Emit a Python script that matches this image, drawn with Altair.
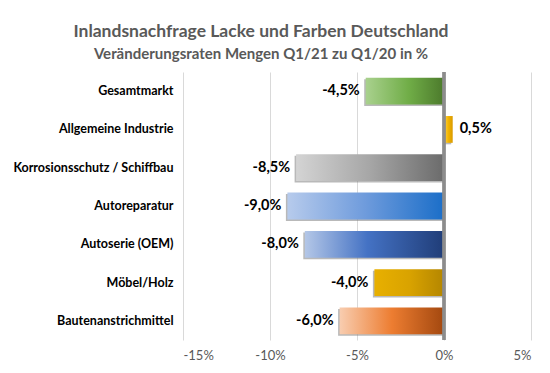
import altair as alt
import pandas as pd

categories = ["Gesamtmarkt", "Allgemeine Industrie", "Korrosionsschutz / Schiffbau",
              "Autoreparatur", "Autoserie (OEM)", "Möbel/Holz", "Bautenanstrichmittel"]
values = [-4.5, 0.5, -8.5, -9.0, -8.0, -4.0, -6.0]
gradient_stops = [
    [("#a9d18e", 0.0), ("#70ad47", 0.55), ("#4c7a2c", 1.0)],
    [("#ffd54f", 0.0), ("#f2b400", 0.5), ("#d99a00", 1.0)],
    [("#d4d4d4", 0.0), ("#a6a6a6", 0.5), ("#6b6b6b", 1.0)],
    [("#b7cbec", 0.0), ("#6e9bdc", 0.5), ("#1b6ec8", 1.0)],
    [("#b4c7e7", 0.0), ("#4472c4", 0.45), ("#203d78", 1.0)],
    [("#e8b000", 0.0), ("#d9a300", 0.5), ("#b48600", 1.0)],
    [("#f8cdb0", 0.0), ("#ed7d31", 0.5), ("#a3480f", 1.0)],
]
x_ticks = [-15, -10, -5, 0, 5]

FONT = "Lato"
W, H = 348, 268

df = pd.DataFrame({"cat": categories, "v": values})

xs = alt.X("v:Q", scale=alt.Scale(domain=[-15, 5], nice=False), title=None,
           axis=alt.Axis(values=x_ticks, labelExpr="datum.value + '%'", domain=False, ticks=False,
                         grid=True, gridColor="#d9d9d9", labelColor="#595959", labelFontSize=13,
                         labelFont=FONT, labelPadding=9))
ys = alt.Y("cat:N", sort=categories, title=None,
           scale=alt.Scale(paddingInner=0.3, paddingOuter=0.15),
           axis=alt.Axis(domain=False, ticks=False, labelFontWeight="bold", labelColor="#000000",
                         labelFontSize=12.5, labelFont=FONT, labelPadding=10, labelLimit=300))

base = alt.Chart(df)

shadow = base.mark_bar(color="#7f7f7f", opacity=0.55, xOffset=-1.5, yOffset=1.5).encode(
    x=xs, y=ys, x2=alt.datum(0))

bars = []
for cat, stops in zip(categories, gradient_stops):
    g = alt.Gradient(gradient="linear", x1=0, x2=1, y1=0, y2=0,
                     stops=[alt.GradientStop(color=c, offset=o) for c, o in stops])
    bars.append(base.transform_filter(alt.datum.cat == cat).mark_bar(color=g).encode(
        x=xs, y=ys, x2=alt.datum(0)))

zero = base.mark_rule(color="#8c8c8c", strokeWidth=2.5).encode(
    x=alt.datum(0), y=alt.value(0), y2=alt.value(H))

label_expr = "replace(replace(format(datum.v, '.1f'), '.', ','), '\u2212', '-') + '%'"
neg_labels = base.transform_filter(alt.datum.v < 0).transform_calculate(lbl=label_expr).mark_text(
    align="right", dx=-6, fontWeight="bold", fontSize=14.5, font=FONT, color="#000000").encode(
    x=xs, y=ys, text="lbl:N")
pos_labels = base.transform_filter(alt.datum.v >= 0).transform_calculate(lbl=label_expr).mark_text(
    align="left", dx=7, fontWeight="bold", fontSize=14.5, font=FONT, color="#000000").encode(
    x=xs, y=ys, text="lbl:N")

chart = alt.layer(shadow, *bars, zero, neg_labels, pos_labels).properties(
    width=W, height=H,
    title=alt.Title("Inlandsnachfrage Lacke und Farben Deutschland",
                    subtitle="Veränderungsraten Mengen Q1/21 zu Q1/20 in %",
                    anchor="middle", dx=-96, offset=9, fontSize=17.5, subtitleFontSize=15,
                    font=FONT, subtitleFont=FONT, fontWeight="bold", subtitleFontWeight="bold",
                    color="#595959", subtitleColor="#595959", subtitlePadding=6),
    autosize=alt.AutoSizeParams(type="none"),
    padding={"left": 175, "top": 64, "right": 11, "bottom": 30},
    background="white",
).configure_view(stroke=None)

chart.save("out.html", embed_options={"renderer": "svg", "actions": False})
